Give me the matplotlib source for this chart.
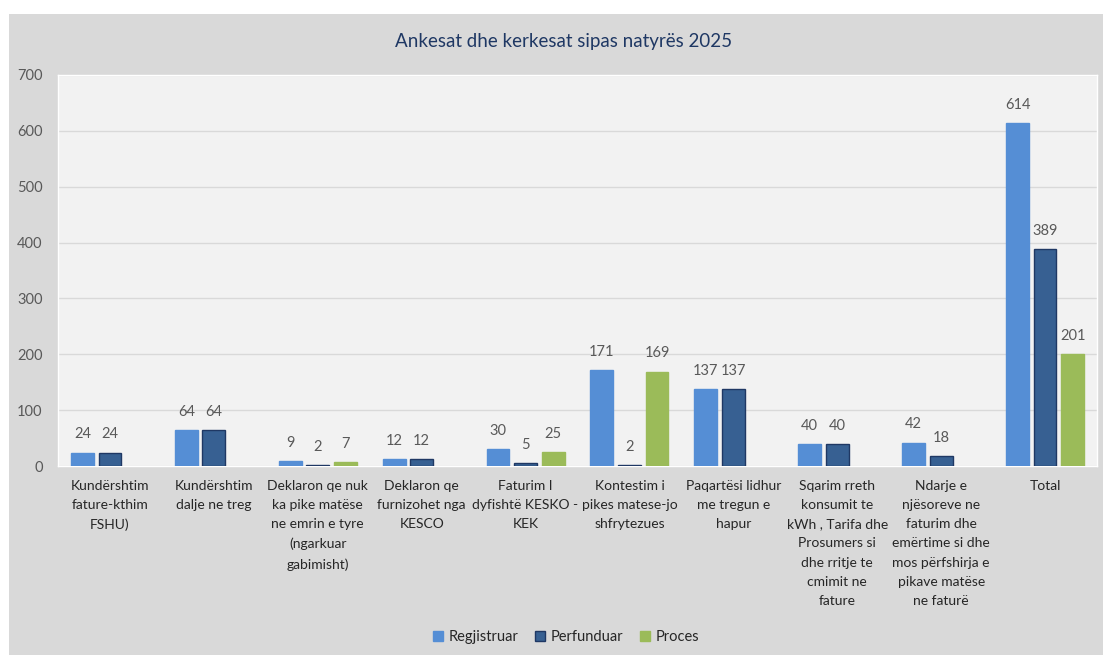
import matplotlib.pyplot as plt
import numpy as np
from matplotlib.patches import Rectangle

categories = [
    "Kundërshtim\nfature-kthim\nFSHU)",
    "Kundërshtim\ndalje ne treg",
    "Deklaron qe nuk\nka pike matëse\nne emrin e tyre\n(ngarkuar\ngabimisht)",
    "Deklaron qe\nfurnizohet nga\nKESCO",
    "Faturim I\ndyfishtë KESKO -\nKEK",
    "Kontestim i\npikes matese-jo\nshfrytezues",
    "Paqartësi lidhur\nme tregun e\nhapur",
    "Sqarim rreth\nkonsumit te\nkWh , Tarifa dhe\nProsumers si\ndhe rritje te\ncmimit ne\nfature",
    "Ndarje e\nnjësoreve ne\nfaturim dhe\nemërtime si dhe\nmos përfshirja e\npikave matëse\nne faturë",
    "Total",
]
regjistruar = [24, 64, 9, 12, 30, 171, 137, 40, 42, 614]
perfunduar = [24, 64, 2, 12, 5, 2, 137, 40, 18, 389]
proces = [None, None, 7, None, 25, 169, None, None, None, 201]

plt.rcParams['font.family'] = ['Lato', 'DejaVu Sans']
txt = '#595959'

fig = plt.figure(figsize=(11.03, 6.55), dpi=100, facecolor='white')
fig.patches.append(Rectangle((9 / 1103, 0), 1, 1 - 14 / 655, transform=fig.transFigure,
                             facecolor='#d9d9d9', edgecolor='none', zorder=-10))
ax = fig.add_axes([58 / 1103, 1 - 466 / 655, (1097 - 58) / 1103, (466 - 75) / 655])
ax.set_facecolor('#f2f2f2')

x = np.arange(len(categories))
w = 0.22
off = 0.265
series = [
    ("Regjistruar", regjistruar, '#558ed5', '#558ed5', -off),
    ("Perfunduar", perfunduar, '#376092', '#1f3864', 0),
    ("Proces", proces, '#9bbb59', '#9bbb59', off),
]
for name, vals, fc, ec, dx in series:
    xs = [xi + dx for xi, v in zip(x, vals) if v is not None]
    vs = [v for v in vals if v is not None]
    ax.bar(xs, vs, width=w, color=fc, edgecolor=ec, linewidth=1, label=name, zorder=3)
    for xi, v in zip(xs, vs):
        ax.annotate(str(v), (xi, v), xytext=(0, 8), textcoords='offset points',
                    ha='center', va='bottom', fontsize=10.5, color=txt)

ax.set_xlim(-0.5, len(categories) - 0.5)
ax.set_ylim(0, 700)
ax.set_yticks(range(0, 701, 100))
ax.grid(axis='y', color='#d9d9d9', linewidth=1, zorder=0)
ax.set_axisbelow(True)
ax.set_xticks(x)
ax.set_xticklabels(categories, fontsize=10, color='#262626', linespacing=1.72)
ax.tick_params(axis='x', length=0, pad=10)
ax.tick_params(axis='y', length=0, pad=11, labelsize=10.5, labelcolor=txt)
for s in ax.spines.values():
    s.set_color('white')
    s.set_linewidth(1)

fig.text(564 / 1103, 1 - 42 / 655, "Ankesat dhe kerkesat sipas natyrës 2025",
         ha='center', va='center', fontsize=13.5, color='#1f3864')

fig.legend(loc='center', bbox_to_anchor=(566 / 1103, 1 - 637 / 655), ncol=3,
           frameon=False, fontsize=10.5, handlelength=0.7, handleheight=0.7,
           handletextpad=0.4, columnspacing=1.1, labelcolor='#262626')

fig.savefig('out.png', dpi=100, facecolor=fig.get_facecolor())
